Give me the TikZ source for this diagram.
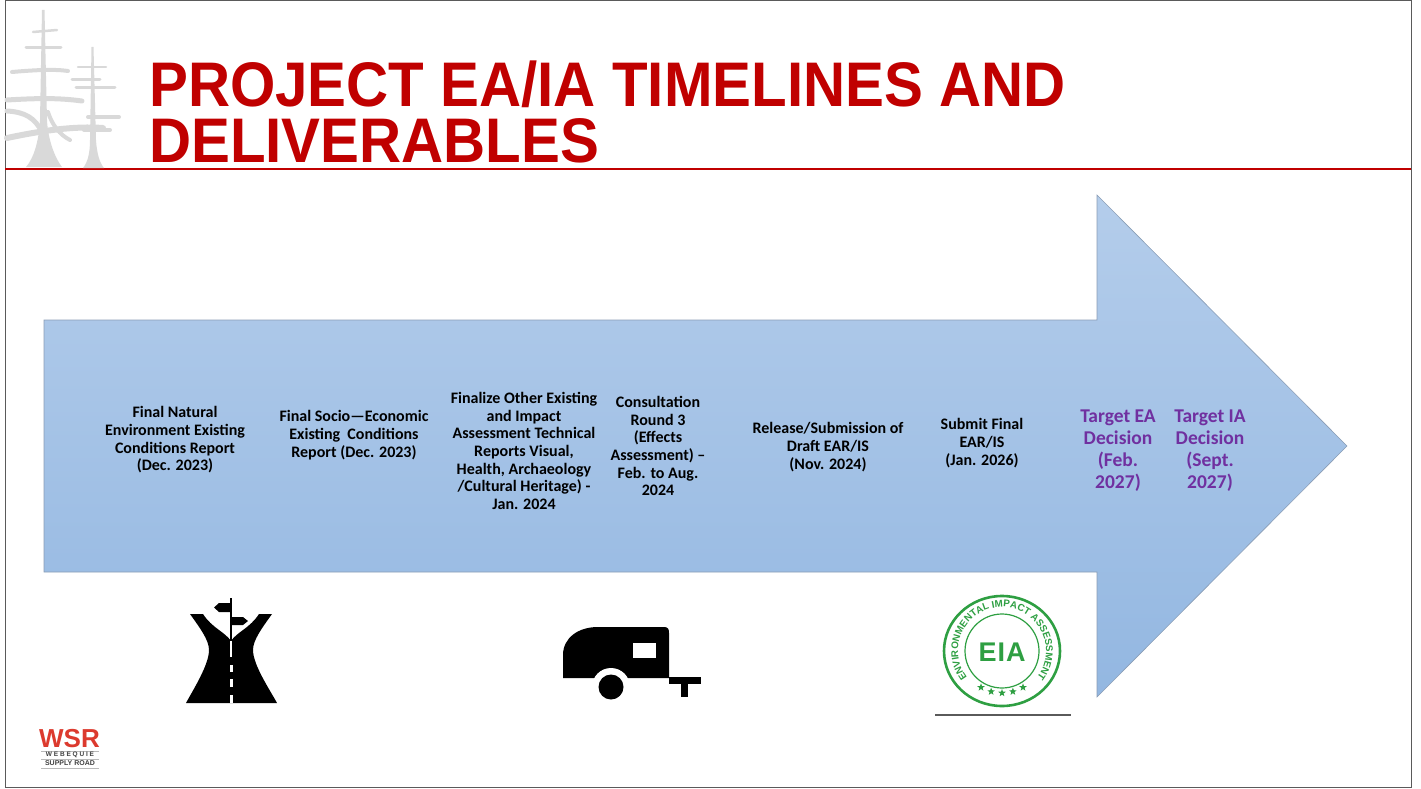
\documentclass[tikz,border=0pt]{standalone}
\usepackage{fontspec}
\setmainfont{Carlito}
\newfontfamily\headfont{Liberation Sans}
\newfontfamily\logofont[LetterSpace=28]{Liberation Sans}
\usetikzlibrary{shapes.geometric,decorations.text}

\definecolor{slidered}{HTML}{C00000}
\definecolor{logored}{HTML}{DC3A2E}
\definecolor{purp}{HTML}{7030A0}
\definecolor{arrowtop}{HTML}{B4CDEB}
\definecolor{arrowbot}{HTML}{93B7E1}
\definecolor{arrowedge}{HTML}{8A9DB5}
\definecolor{treegray}{HTML}{D9D9D9}
\definecolor{stampgreen}{HTML}{2E9F42}
\definecolor{framegray}{HTML}{5A5A5A}

\tikzset{
  milestone/.style={align=center, inner sep=0pt, font=\bfseries\fontsize{16}{17.7}\selectfont},
  target/.style={align=center, inner sep=0pt, text=purp, font=\bfseries\fontsize{19.5}{22}\selectfont},
  titleline/.style={anchor=base west, inner sep=0pt, text=slidered, font=\headfont\bfseries\fontsize{63}{63}\selectfont},
  branch/.style={treegray, line cap=round, line width=#1},
  branch/.default=3pt,
  logorule/.style={gray!55, line width=0.6pt}
}

\begin{document}
\begin{tikzpicture}[x=1pt,y=-1pt]
\useasboundingbox (0,0) rectangle (1421,789);

% slide frame and header rule
\draw[framegray, line width=1pt] (5,1) rectangle (1411,787.5);
\draw[slidered, line width=1.2pt] (5,169) -- (1411,169);

% header trees
\fill[treegray] (42,10) -- (44.5,10) -- (47,120) .. controls (48,140) and (55,158) .. (62,167)
  -- (26,167) .. controls (34,158) and (39,140) .. (40,120) -- cycle;
\draw[branch=2.5pt] (33,32) -- (57,30);
\draw[branch=3pt] (26,48) -- (61,48);
\draw[branch=4pt] (12,72) .. controls (35,70) and (55,69) .. (68,71);
\draw[branch=5pt] (7,100) .. controls (40,98) and (60,98) .. (82,101);
\draw[branch=5pt] (7,111) .. controls (25,112) and (35,118) .. (42,132);
\draw[branch=6pt] (7,138) .. controls (45,130) and (75,126) .. (103,128);
\draw[branch=4pt] (48,112) .. controls (52,125) and (60,135) .. (70,140);
\fill[treegray] (91.5,47) -- (93.5,47) -- (96,140) .. controls (97,155) and (100,163) .. (104,168)
  -- (83,168) .. controls (87,163) and (90,155) .. (90,140) -- cycle;
\draw[branch=2.5pt] (78,67) -- (106,67);
\draw[branch=3pt] (72,80) -- (100,80);
\draw[branch=3pt] (76,88) -- (115,88);
\draw[branch=4pt] (88,117) -- (119,117);
\draw[branch=4pt] (84,130) -- (110,130);

% title
\node[titleline] (title1) at (149,107) {\scalebox{0.925}[1]{PROJECT EA/IA TIMELINES AND}};
\node[titleline] (title2) at (149,162) {\scalebox{0.925}[1]{DELIVERABLES}};

% timeline arrow
\path[top color=arrowtop, bottom color=arrowbot, draw=arrowedge, line width=0.6pt]
  (44,320) -- (1097,320) -- (1097,195) -- (1347,446) -- (1097,697) -- (1097,572) -- (44,572) -- cycle;

% milestones
\node[milestone] (m1) at (175,440) {Final Natural\\Environment Existing\\Conditions Report\\(Dec. 2023)};
\node[milestone] (m2) at (354,435) {Final Socio—Economic\\Existing~~Conditions\\Report (Dec. 2023)};
\node[milestone] (m3) at (524,451) {Finalize Other Existing\\and Impact\\Assessment Technical\\Reports Visual,\\Health, Archaeology\\/Cultural Heritage) -\\Jan. 2024};
\node[milestone] (m4) at (658,446) {Consultation\\Round 3\\(Effects\\Assessment) –\\Feb. to Aug.\\2024};
\node[milestone] (m5) at (828,447) {Release/Submission of\\Draft EAR/IS\\(Nov. 2024)};
\node[milestone] (m6) at (982,443) {Submit Final\\EAR/IS\\(Jan. 2026)};
\node[target] (t1) at (1118,451) {Target EA\\Decision\\(Feb.\\2027)};
\node[target] (t2) at (1210,451) {Target IA\\Decision\\(Sept.\\2027)};

% road with signpost
\fill[black] (190,614) -- (203,614) .. controls (212,628) and (225,632) .. (231,641)
  .. controls (237,632) and (250,628) .. (259,614) -- (272,614)
  .. controls (262,628) and (253,640) .. (253,650)
  .. controls (253,665) and (270,690) .. (277,703) -- (186,703)
  .. controls (193,690) and (209,665) .. (209,650)
  .. controls (209,640) and (200,628) .. (190,614) -- cycle;
\draw[white, line width=1.2pt] (231,641) -- (231,657);
\fill[white] (229.5,665) rectangle (232.5,672);
\fill[white] (229.5,679) rectangle (232.5,687);
\fill[white] (229.5,695) rectangle (232.5,703);
\fill[black] (229.8,598) rectangle (232.2,641);
\fill[black] (230,603) -- (219,603) -- (214,607.5) -- (219,612) -- (230,612) -- cycle;
\fill[black] (232,617) -- (243,617) -- (248,621) -- (243,625) -- (232,625) -- cycle;

% camper trailer
\fill[black] (563,678) -- (563,655) .. controls (563,638) and (578,627) .. (598,627) -- (664,627)
  .. controls (668,627) and (669,629) .. (669,633) -- (669,678) -- cycle;
\fill[black] (669,677) rectangle (701,684);
\fill[black] (681,684) rectangle (688,697);
\fill[white] (633,643) rectangle (656,658);
\fill[white] (611,687) circle (19);
\fill[black] (611,687) circle (12.5);

% EIA stamp
\begin{scope}[shift={(1002,651)}, y=1pt]
  \draw[stampgreen, line width=2.6pt] (0,0) ellipse (58 and 55);
  \draw[stampgreen, line width=1.2pt] (0,0) circle (37);
  \node[text=stampgreen, font=\headfont\fontsize{27}{27}\selectfont] (eia) at (0,-1) {\textbf{E\kern1pt I\kern1pt A}};
  \path[decorate, decoration={text along path, text align=center,
      text={|\headfont\bfseries\fontsize{9.8}{9.8}\selectfont\color{stampgreen}|ENVIRONMENTAL IMPACT ASSESSMENT}}]
    (226:44) arc (226:-46:44);
  \foreach \a in {240,255,270,285,300}
    \node[star, star points=5, star point ratio=2.4, fill=stampgreen, inner sep=0pt, minimum size=8pt] at (\a:42) {};
\end{scope}
\draw[framegray, line width=1.5pt] (935,715) -- (1071,715);

% WSR logo
\node[anchor=base west, inner sep=0pt, text=logored, font=\headfont\bfseries\fontsize{26}{26}\selectfont] (wsr) at (39,747) {WSR};
\draw[logorule] (41,751) -- (99,751);
\node[inner sep=0pt, text=darkgray, font=\logofont\bfseries\fontsize{6.5}{6.5}\selectfont] (web) at (70,755) {WEBEQUIE};
\draw[logorule] (41,759) -- (99,759);
\node[inner sep=0pt, text=darkgray, font=\headfont\bfseries\fontsize{7}{7}\selectfont] (sr) at (70,763.5) {SUPPLY ROAD};
\draw[logorule] (41,768) -- (99,768);
\end{tikzpicture}
\end{document}
